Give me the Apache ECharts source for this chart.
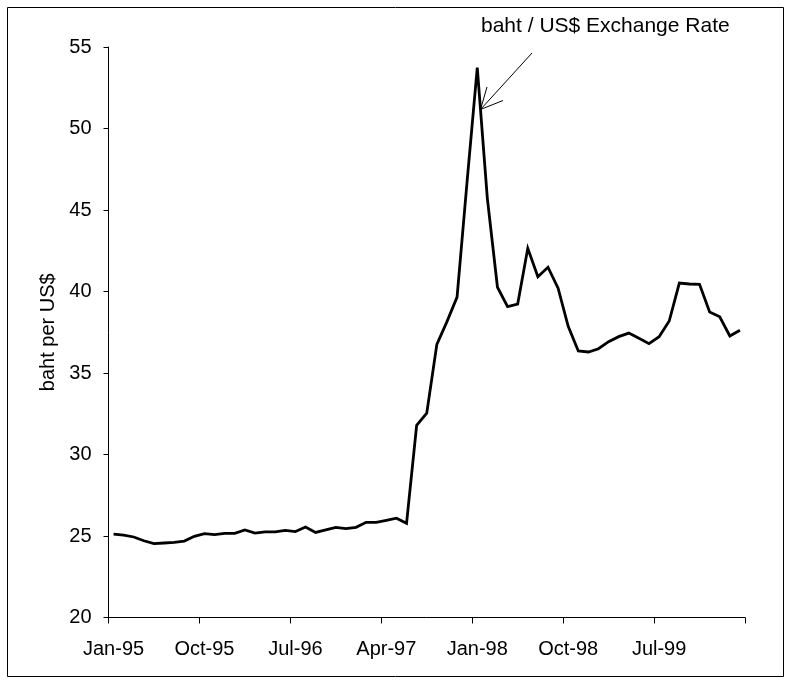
<!DOCTYPE html>
<html>
<head>
<meta charset="utf-8">
<script src="https://cdn.jsdelivr.net/npm/echarts@6/dist/echarts.min.js"></script>
<style>
  html, body { margin: 0; padding: 0; background: #fff; }
  #chart { width: 793px; height: 683px; }
</style>
</head>
<body>
<div id="chart"></div>
<script>
// Monthly baht / US$ exchange rate, Jan-95 to Mar-00
const monthNames = ['Jan','Feb','Mar','Apr','May','Jun','Jul','Aug','Sep','Oct','Nov','Dec'];
const years = ['95','96','97','98','99','00'];
const monthCount = 63;
const categories = [];
for (let i = 0; i < monthCount; i++) {
  categories.push(monthNames[i % 12] + '-' + years[Math.floor(i / 12)]);
}

const rate1995 = [25.12, 25.06, 24.94, 24.71, 24.53, 24.57, 24.61, 24.69, 24.98, 25.14, 25.08, 25.16];
const rate1996 = [25.16, 25.37, 25.18, 25.25, 25.25, 25.35, 25.27, 25.55, 25.22, 25.37, 25.53, 25.45];
const rate1997 = [25.53, 25.84, 25.84, 25.96, 26.09, 25.78, 31.79, 32.53, 36.76, 38.15, 39.66, 46.80];
const rate1998 = [53.73, 45.70, 40.26, 39.07, 39.23, 42.65, 40.91, 41.49, 40.20, 37.86, 36.35, 36.29];
const rate1999 = [36.49, 36.92, 37.23, 37.45, 37.13, 36.80, 37.23, 38.19, 40.52, 40.46, 40.44, 38.74];
const rate2000 = [38.45, 37.27, 37.62];
const rates = [].concat(rate1995, rate1996, rate1997, rate1998, rate1999, rate2000);

const yTicks = { min: 20, max: 55, step: 5 };
const titleText = 'baht / US$ Exchange Rate';
const yAxisName = 'baht per US$';

const font = "'Liberation Sans', Arial, sans-serif";

const chart = echarts.init(document.getElementById('chart'), null, { renderer: 'canvas' });

chart.setOption({
  animation: false,
  backgroundColor: '#ffffff',
  grid: { left: 108.5, right: 48, top: 47, bottom: 65.5 },
  xAxis: {
    type: 'category',
    data: categories,
    boundaryGap: true,
    axisLine: { show: true, lineStyle: { color: '#000', width: 1 } },
    axisTick: { show: true, interval: 8, length: 6, inside: false, lineStyle: { color: '#000', width: 1 } },
    axisLabel: { interval: 8, color: '#000', fontSize: 20, fontFamily: font, margin: 22 },
    splitLine: { show: false }
  },
  yAxis: {
    type: 'value',
    min: yTicks.min,
    max: yTicks.max,
    interval: yTicks.step,
    name: yAxisName,
    nameLocation: 'middle',
    nameRotate: 90,
    nameGap: 50,
    nameTextStyle: { color: '#000', fontSize: 20, fontFamily: font },
    axisLine: { show: true, lineStyle: { color: '#000', width: 1 } },
    axisTick: { show: true, length: 5, inside: false, lineStyle: { color: '#000', width: 1 } },
    axisLabel: { color: '#000', fontSize: 20, fontFamily: font, margin: 17 },
    splitLine: { show: false }
  },
  series: [{
    type: 'line',
    data: rates,
    symbol: 'none',
    smooth: false,
    lineStyle: { color: '#000', width: 2.8, join: 'miter' }
  }],
  graphic: [
    {
      type: 'rect',
      shape: { x: 7.5, y: 7.5, width: 776, height: 669 },
      style: { fill: 'none', stroke: '#000', lineWidth: 1 },
      silent: true
    },
    {
      type: 'text',
      left: 481,
      top: 16,
      style: { text: titleText, fill: '#000', fontSize: 21, fontFamily: font }
    },
    {
      type: 'polyline',
      shape: { points: [[532, 53], [480.5, 109.5]] },
      style: { stroke: '#000', lineWidth: 1, fill: null }
    },
    {
      type: 'polyline',
      shape: { points: [[487, 87], [480.5, 109.5], [503, 100.5]] },
      style: { stroke: '#000', lineWidth: 1, fill: null }
    }
  ]
});
</script>
</body>
</html>
